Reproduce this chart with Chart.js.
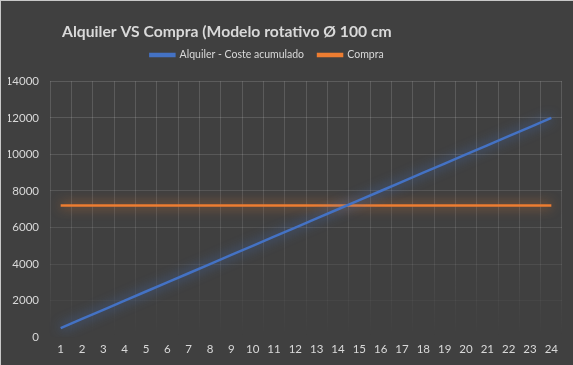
<!DOCTYPE html>
<html>
<head>
<meta charset="utf-8">
<script src="https://cdn.jsdelivr.net/npm/chart.js@4.4.1/dist/chart.umd.min.js"></script>
<style>
  html, body { margin: 0; padding: 0; background: #404040; }
  #wrap { width: 573px; height: 365px; box-sizing: border-box; border-top: 1px solid #c8c8c8; border-left: 1px solid #c8c8c8; background: #404040; position: relative; }
  #wrap canvas { display: block; }
</style>
</head>
<body>
<div id="wrap"><canvas id="c"></canvas></div>
<script>
const titleText = 'Alquiler VS Compra (Modelo rotativo Ø 100 cm';
const months = ['1','2','3','4','5','6','7','8','9','10','11','12','13','14','15','16','17','18','19','20','21','22','23','24'];
const alquiler = [500,1000,1500,2000,2500,3000,3500,4000,4500,5000,5500,6000,6500,7000,7500,8000,8500,9000,9500,10000,10500,11000,11500,12000];
const compra = [7200,7200,7200,7200,7200,7200,7200,7200,7200,7200,7200,7200,7200,7200,7200,7200,7200,7200,7200,7200,7200,7200,7200,7200];
const seriesNames = ['Alquiler - Coste acumulado', 'Compra'];
const seriesColors = ['#4472C4', '#ED7D31'];
const yTicks = { min: 0, max: 14000, step: 2000 };

const textColor = '#d9d9d9';
const fontFam = "Lato, 'Open Sans', sans-serif";

function gridGradient(ctx) {
  const chart = ctx.chart;
  const area = chart.chartArea;
  if (!area) return 'rgba(255,255,255,0.12)';
  const g = chart.ctx.createLinearGradient(0, area.top, 0, area.bottom);
  g.addColorStop(0, 'rgba(255,255,255,0.15)');
  g.addColorStop(0.55, 'rgba(255,255,255,0.11)');
  g.addColorStop(1, 'rgba(255,255,255,0.0)');
  return g;
}

const glowPlugin = {
  id: 'glow',
  beforeDatasetDraw(chart, args) {
    const ctx = chart.ctx;
    ctx.save();
    ctx.shadowColor = args.index === 0 ? 'rgba(68,114,196,1)' : 'rgba(237,125,49,0.9)';
    ctx.shadowBlur = 12;
  },
  afterDatasetDraw(chart) {
    chart.ctx.restore();
  }
};

const shiftPlugin = {
  id: 'shift',
  afterLayout(chart) {
    if (chart.titleBlock) { chart.titleBlock.left = 61; }
    if (chart.legend) {
      chart.legend.left -= 18; chart.legend.right -= 18;
      chart.legend.top -= 11; chart.legend.bottom -= 11;
    }
  }
};

new Chart(document.getElementById('c'), {
  type: 'line',
  data: {
    labels: months,
    datasets: [
      { label: seriesNames[0], data: alquiler, borderColor: seriesColors[0], backgroundColor: seriesColors[0], borderWidth: 2.5, pointRadius: 0, tension: 0 },
      { label: seriesNames[1], data: compra, borderColor: seriesColors[1], backgroundColor: seriesColors[1], borderWidth: 2.5, pointRadius: 0, tension: 0 }
    ]
  },
  options: {
    responsive: true,
    maintainAspectRatio: false,
    animation: false,
    layout: { padding: { left: 7, right: 11, top: 0, bottom: 4 } },
    plugins: {
      title: {
        display: true,
        text: titleText,
        align: 'start',
        color: textColor,
        font: { family: fontFam, size: 15.7, weight: 'bold' },
        padding: { top: 22, bottom: 5 }
      },
      legend: {
        display: true,
        labels: {
          color: textColor,
          font: { family: fontFam, size: 10.5 },
          boxWidth: 24,
          boxHeight: 2,
          padding: 14
        }
      },
      tooltip: { enabled: false }
    },
    scales: {
      x: {
        offset: true,
        grid: { offset: true, color: gridGradient, drawTicks: false, lineWidth: 1 },
        border: { display: false },
        ticks: { color: textColor, font: { family: fontFam, size: 11.5 }, padding: 5, maxRotation: 0, autoSkip: false }
      },
      y: {
        min: yTicks.min,
        max: yTicks.max,
        afterFit: (scale) => { scale.width = 42; },
        grid: { color: gridGradient, drawTicks: false, lineWidth: 1 },
        border: { display: false },
        ticks: { stepSize: yTicks.step, color: textColor, font: { family: fontFam, size: 11.5 }, padding: 11, callback: (v) => String(v) }
      }
    }
  },
  plugins: [glowPlugin, shiftPlugin]
});
</script>
</body>
</html>
